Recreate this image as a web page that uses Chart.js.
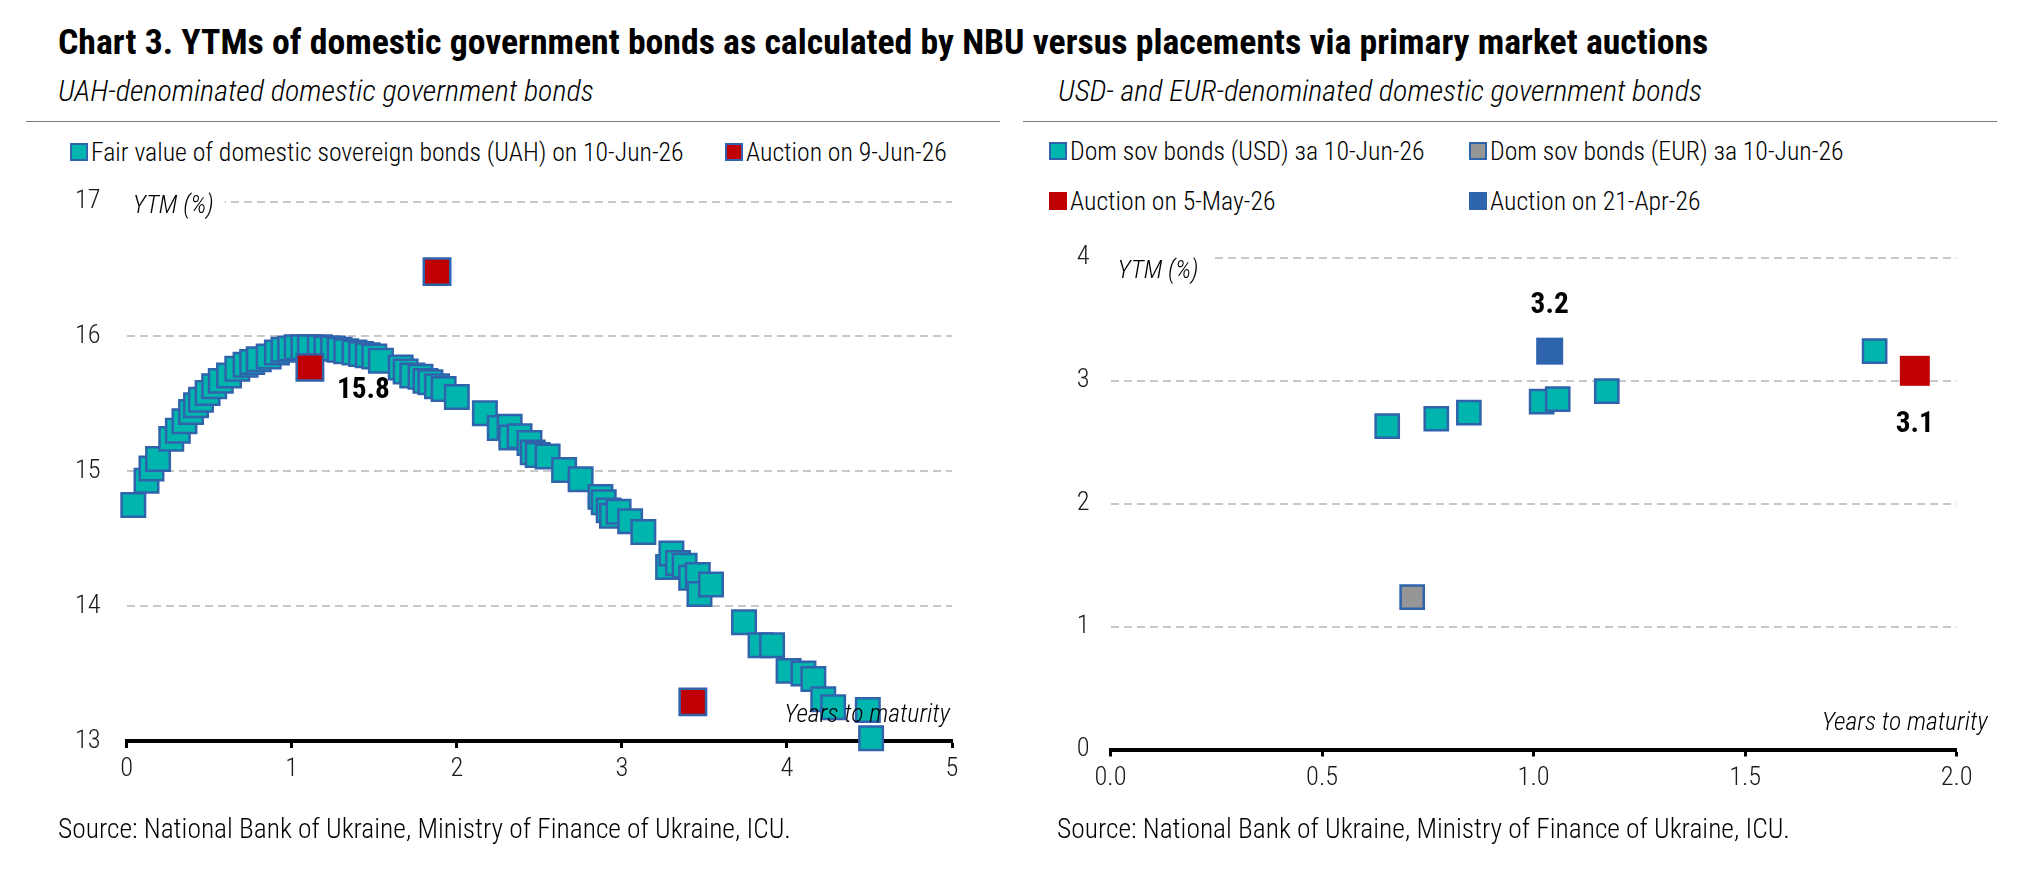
<!DOCTYPE html>
<html>
<head>
<meta charset="utf-8">
<script src="https://cdn.jsdelivr.net/npm/chart.js@4.4.1/dist/chart.umd.min.js"></script>
<style>
  body { margin: 0; background: #fff; width: 2022px; height: 870px; position: relative; overflow: hidden; }
  .txt { position: absolute; white-space: nowrap; line-height: 1; color: #000; }
  .rule { position: absolute; height: 0; border-top: 1.5px solid #7a7a7a; }
  .key { position: absolute; box-sizing: border-box; width: 18px; height: 18px; }
  canvas { position: absolute; }
</style>
</head>
<body>
<div class="txt" id="title" style="left:58px;font-weight:bold">Chart 3. YTMs of domestic government bonds as calculated by NBU versus placements via primary market auctions</div>
<div class="txt" id="subUah" style="left:58px;font-style:italic;font-weight:300">UAH-denominated domestic government bonds</div>
<div class="txt" id="subFx" style="left:1058px;font-style:italic;font-weight:300">USD- and EUR-denominated domestic government bonds</div>
<div class="rule" style="left:26px;top:121px;width:974px"></div>
<div class="rule" style="left:1023px;top:121px;width:974px"></div>
<div id="legendUah"></div>
<div id="legendFx"></div>
<canvas id="uah" width="1000" height="650" style="left:0;top:170px"></canvas>
<canvas id="fx" width="1012" height="650" style="left:1010px;top:170px"></canvas>
<div class="txt" id="srcUah" style="left:58px;font-weight:300">Source: National Bank of Ukraine, Ministry of Finance of Ukraine, ICU.</div>
<div class="txt" id="srcFx" style="left:1057px;font-weight:300">Source: National Bank of Ukraine, Ministry of Finance of Ukraine, ICU.</div>
<script>
// UAH bonds: fair value curve on 10-Jun-26
const uahYears = [0.04, 0.12, 0.15, 0.19, 0.27, 0.31, 0.35, 0.39, 0.42, 0.45, 0.49, 0.53, 0.57, 0.62, 0.67, 0.72, 0.76, 0.80, 0.86, 0.91, 0.95, 0.99, 1.03, 1.07, 1.11, 1.17, 1.21, 1.25, 1.29, 1.33, 1.38, 1.42, 1.46, 1.50, 1.54, 1.66, 1.69, 1.73, 1.78, 1.81, 1.84, 1.88, 1.92, 2.00, 2.17, 2.26, 2.32, 2.33, 2.38, 2.44, 2.46, 2.49, 2.55, 2.65, 2.75, 2.87, 2.89, 2.92, 2.94, 2.98, 3.05, 3.13, 3.28, 3.30, 3.34, 3.38, 3.42, 3.46, 3.47, 3.54, 3.74, 3.84, 3.91, 4.01, 4.10, 4.16, 4.22, 4.28, 4.49, 4.51];
const uahYtm = [14.75, 14.93, 15.02, 15.09, 15.24, 15.30, 15.37, 15.44, 15.49, 15.53, 15.58, 15.63, 15.67, 15.71, 15.76, 15.79, 15.81, 15.83, 15.85, 15.88, 15.90, 15.91, 15.92, 15.92, 15.92, 15.92, 15.91, 15.91, 15.90, 15.89, 15.88, 15.87, 15.86, 15.85, 15.82, 15.77, 15.74, 15.71, 15.70, 15.67, 15.66, 15.63, 15.61, 15.55, 15.43, 15.32, 15.33, 15.25, 15.26, 15.21, 15.14, 15.12, 15.11, 15.01, 14.94, 14.81, 14.77, 14.71, 14.67, 14.70, 14.63, 14.55, 14.29, 14.39, 14.32, 14.30, 14.21, 14.23, 14.09, 14.16, 13.88, 13.71, 13.71, 13.52, 13.50, 13.46, 13.31, 13.25, 13.23, 13.02];
// UAH auction on 9-Jun-26
const uahAuctionYears = [1.11, 1.88, 3.43];
const uahAuctionYtm = [15.77, 16.48, 13.29];
const uahAuctionLabelled = [true, false, false];

// FX bonds on 10-Jun-26
const usdYears = [0.654, 0.77, 0.847, 1.019, 1.057, 1.173, 1.806];
const usdYtm = [2.63, 2.69, 2.74, 2.83, 2.85, 2.915, 3.24];
const eurYears = [0.713];
const eurYtm = [1.24];
// FX auctions
const mayAuctionYears = [1.901];
const mayAuctionYtm = [3.08];
const aprAuctionYears = [1.038];
const aprAuctionYtm = [3.24];

const uahTicksX = [0, 1, 2, 3, 4, 5];
const uahTicksY = [13, 14, 15, 16, 17];
const fxTicksX = [0, 0.5, 1, 1.5, 2];
const fxTicksY = [0, 1, 2, 3, 4];

const TEAL = '#00B5AE';
const EDGE = '#2F64AC';
const RED = '#C00000';
const GREY = '#969696';
const BLUE = '#2E63AD';
const FAMILY = '"Roboto Condensed", "DejaVu Sans Condensed", "Liberation Sans"';

const probe = document.createElement('canvas').getContext('2d');
// font size that makes the text as wide as it is in the picture
function fitSize(prefix, text, width) {
  probe.font = `${prefix} 100px ${FAMILY}`;
  return 100 * width / probe.measureText(text).width;
}
// size an html label and put its baseline at y
function place(id, prefix, size, baseline) {
  const el = typeof id === 'string' ? document.getElementById(id) : id;
  el.style.fontFamily = FAMILY;
  el.style.fontSize = size + 'px';
  probe.font = `${prefix} ${size}px ${FAMILY}`;
  const m = probe.measureText(el.textContent);
  const asc = m.fontBoundingBoxAscent, desc = m.fontBoundingBoxDescent;
  el.style.top = (baseline - ((size - asc - desc) / 2 + asc)) + 'px';
}

const uahFair = 'Fair value of domestic sovereign bonds (UAH) on 10-Jun-26';
const uahAuction = 'Auction on 9-Jun-26';
const usdLabel = 'Dom sov bonds (USD) за 10-Jun-26';
const eurLabel = 'Dom sov bonds (EUR) за 10-Jun-26';
const mayLabel = 'Auction on 5-May-26';
const aprLabel = 'Auction on 21-Apr-26';

const LIGHT = 'normal 300';
const LIGHT_IT = 'italic 300';
const titleSize = fitSize('normal bold', document.getElementById('title').textContent, 1651);
const subSize = fitSize(LIGHT_IT, 'UAH-denominated domestic government bonds', 536);
const srcSize = fitSize(LIGHT, 'Source: National Bank of Ukraine, Ministry of Finance of Ukraine, ICU.', 733);
const keySize = fitSize(LIGHT, uahFair, 593);
const tickSize = fitSize(LIGHT, '0.0', 32);
const noteSize = fitSize(LIGHT_IT, 'Years to maturity', 166);
const ytmSize = fitSize(LIGHT_IT, 'YTM (%)', 81);
const valueSize = fitSize('normal bold', '15.8', 53);

place('title', 'normal bold', titleSize, 55);
place('subUah', LIGHT_IT, subSize, 101.5);
place('subFx', LIGHT_IT, subSize, 101.5);
place('srcUah', LIGHT, srcSize, 839);
place('srcFx', LIGHT, srcSize, 839);

const xy = (xs, ys) => xs.map((x, i) => ({ x, y: ys[i] }));

function buildLegend(id, items) {
  const host = document.getElementById(id);
  items.forEach(it => {
    const box = document.createElement('div');
    box.className = 'key';
    box.style.left = it.left + 'px';
    box.style.top = (it.baseline - 19) + 'px';
    box.style.background = it.fill;
    box.style.border = it.edge ? '2.5px solid ' + it.edge : 'none';
    host.appendChild(box);
    const t = document.createElement('div');
    t.className = 'txt';
    t.style.left = (it.left + 21) + 'px';
    t.style.fontWeight = '300';
    t.textContent = it.label;
    host.appendChild(t);
    place(t, LIGHT, keySize, it.baseline);
  });
}

const notes = {
  id: 'notes',
  beforeDatasetsDraw(chart, args, o) {
    const { ctx, chartArea: a } = chart;
    ctx.save();
    ctx.fillStyle = '#fff';
    ctx.fillRect(a.left, a.top - 3, o.ytmBox, 6);
    ctx.fillStyle = '#000';
    ctx.font = `${LIGHT_IT} ${ytmSize}px ${FAMILY}`;
    ctx.textBaseline = 'alphabetic';
    ctx.fillText('YTM (%)', a.left + o.ytmDx, a.top + o.ytmDy);
    ctx.restore();
  },
  afterDatasetsDraw(chart, args, o) {
    const { ctx, chartArea: a } = chart;
    ctx.save();
    ctx.fillStyle = '#000';
    ctx.font = `${LIGHT_IT} ${noteSize}px ${FAMILY}`;
    ctx.textAlign = 'right';
    ctx.textBaseline = 'alphabetic';
    ctx.fillText('Years to maturity', a.right + o.yearsDx, a.bottom - 19.5);
    ctx.font = `bold ${valueSize}px ${FAMILY}`;
    chart.data.datasets.forEach((ds, di) => {
      if (!ds.labelled) return;
      const meta = chart.getDatasetMeta(di);
      ds.labelled.forEach((on, i) => {
        if (!on) return;
        const p = meta.data[i];
        const txt = ds.data[i].y.toFixed(1);
        if (ds.labelSide === 'right') { ctx.textAlign = 'left'; ctx.fillText(txt, p.x + 27, p.y + 30.5); }
        if (ds.labelSide === 'above') { ctx.textAlign = 'center'; ctx.fillText(txt, p.x, p.y - 38.5); }
        if (ds.labelSide === 'below') { ctx.textAlign = 'center'; ctx.fillText(txt, p.x, p.y + 61.5); }
      });
    });
    ctx.restore();
  }
};

function squares(label, data, fill, edge, radius, order, extra) {
  return Object.assign({
    label, data, order, clip: false, showLine: false,
    pointStyle: 'rect', pointRadius: radius, pointHoverRadius: radius,
    pointBackgroundColor: fill, pointBorderColor: edge || fill,
    pointBorderWidth: edge ? 2.5 : 0
  }, extra || {});
}

function scalesFor(xt, yt, xFmt, yWidth, xHeight, yPad) {
  const tickFont = { family: FAMILY, size: tickSize, weight: 300 };
  return {
    x: {
      type: 'linear', min: xt[0], max: xt[xt.length - 1],
      afterBuildTicks: s => { s.ticks = xt.map(v => ({ value: v })); },
      afterFit: s => { s.height = xHeight; s.paddingLeft = 0; s.paddingRight = 0; },
      ticks: { font: tickFont, color: '#1a1a1a', padding: 6, callback: xFmt, maxRotation: 0 },
      grid: { drawOnChartArea: false, drawTicks: true, tickLength: 7, tickWidth: 3, tickColor: '#000', color: '#000' },
      border: { color: '#000', width: 4 }
    },
    y: {
      min: yt[0], max: yt[yt.length - 1],
      afterBuildTicks: s => { s.ticks = yt.map(v => ({ value: v })); },
      afterFit: s => { s.width = yWidth; s.paddingTop = 0; s.paddingBottom = 0; },
      ticks: { font: tickFont, color: '#1a1a1a', padding: yPad },
      grid: { drawTicks: false, lineWidth: 2, color: c => c.tick && c.tick.value === yt[0] ? 'rgba(0,0,0,0)' : '#C8C8C8' },
      border: { display: false, dash: [8, 5] }
    }
  };
}

new Chart(document.getElementById('uah'), {
  type: 'scatter',
  data: {
    datasets: [
      squares(uahAuction, xy(uahAuctionYears, uahAuctionYtm), RED, EDGE, 18.7, 0, { labelled: uahAuctionLabelled, labelSide: 'right' }),
      squares(uahFair, xy(uahYears, uahYtm), TEAL, EDGE, 16.6, 1)
    ]
  },
  options: {
    responsive: false, animation: false, events: [],
    layout: { padding: { top: 31.5, right: 48, left: 0, bottom: 0 } },
    plugins: { legend: { display: false }, tooltip: { enabled: false }, notes: { ytmDx: 6, ytmDy: 11.6, ytmBox: 98, yearsDx: -2 } },
    scales: scalesFor(uahTicksX, uahTicksY, v => String(v), 126.7, 79, 26)
  },
  plugins: [notes]
});

new Chart(document.getElementById('fx'), {
  type: 'scatter',
  data: {
    datasets: [
      squares(mayLabel, xy(mayAuctionYears, mayAuctionYtm), RED, null, 21.2, 0, { labelled: [true], labelSide: 'below' }),
      squares(aprLabel, xy(aprAuctionYears, aprAuctionYtm), BLUE, null, 19.1, 1, { labelled: [true], labelSide: 'above' }),
      squares(usdLabel, xy(usdYears, usdYtm), TEAL, EDGE, 16.4, 2),
      squares(eurLabel, xy(eurYears, eurYtm), GREY, EDGE, 16.4, 3)
    ]
  },
  options: {
    responsive: false, animation: false, events: [],
    layout: { padding: { top: 87.7, right: 65.3, left: 0, bottom: 0 } },
    plugins: { legend: { display: false }, tooltip: { enabled: false }, notes: { ytmDx: 7, ytmDy: 20.6, ytmBox: 100, yearsDx: 31 } },
    scales: scalesFor(fxTicksX, fxTicksY, v => v.toFixed(1), 100.5, 70.5, 21)
  },
  plugins: [notes]
});

buildLegend('legendUah', [
  { label: uahFair, fill: TEAL, edge: EDGE, left: 70, baseline: 162 },
  { label: uahAuction, fill: RED, edge: EDGE, left: 725, baseline: 162 }
]);
buildLegend('legendFx', [
  { label: usdLabel, fill: TEAL, edge: EDGE, left: 1049, baseline: 161 },
  { label: eurLabel, fill: GREY, edge: EDGE, left: 1469, baseline: 161 },
  { label: mayLabel, fill: RED, edge: null, left: 1049, baseline: 211 },
  { label: aprLabel, fill: BLUE, edge: null, left: 1469, baseline: 211 }
]);
</script>
</body>
</html>
